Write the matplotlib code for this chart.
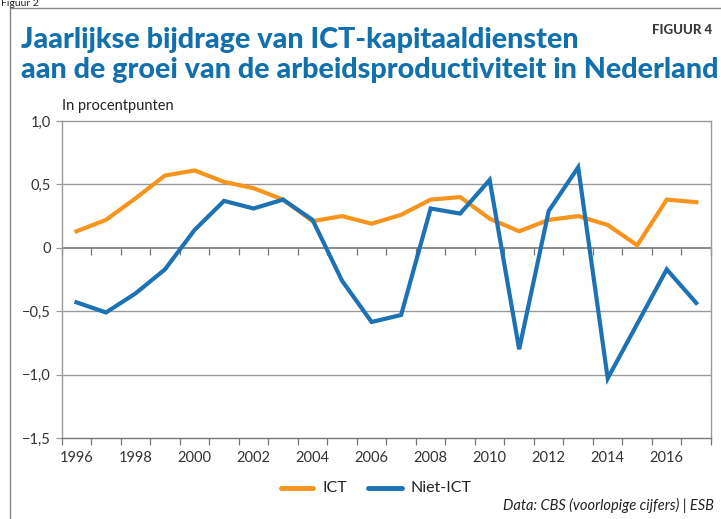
import matplotlib
matplotlib.use("Agg")
import matplotlib.pyplot as plt
from matplotlib.lines import Line2D
import numpy as np

years = list(range(1996, 2018))
ict = [0.13, 0.22, 0.39, 0.57, 0.61, 0.52, 0.47, 0.38, 0.21, 0.25, 0.19, 0.26,
       0.38, 0.40, 0.23, 0.13, 0.22, 0.25, 0.18, 0.02, 0.38, 0.36]
niet_ict = [-0.43, -0.51, -0.36, -0.17, 0.14, 0.37, 0.31, 0.38, 0.22, -0.26, -0.585, -0.53,
            0.31, 0.27, 0.535, -0.80, 0.29, 0.635, -1.03, -0.60, -0.17, -0.435]
yticks = [-1.5, -1.0, -0.5, 0, 0.5, 1.0]
ytick_labels = ["\u22121,5", "\u22121,0", "\u22120,5", "0", "0,5", "1,0"]

ORANGE = "#F7941D"
BLUE = "#1C72B5"
TITLE_BLUE = "#1270AC"
GRID = "#9a9a9a"

W, H = 721, 519
fig = plt.figure(figsize=(W / 100, H / 100), dpi=100)
plt.rcParams['font.family'] = ['Lato', 'DejaVu Sans']

def fx(px):
    return px / W

def fy(py):
    return 1 - py / H

ax = fig.add_axes([fx(61.7), fy(438), fx(711) - fx(61.7), fy(121) - fy(438)])
x = np.arange(len(years))
ax.plot(x, ict, color=ORANGE, lw=3.0, solid_joinstyle='miter', zorder=3)
ax.plot(x, niet_ict, color=BLUE, lw=3.0, solid_joinstyle='miter', zorder=4)

ax.set_xlim(-0.5, len(years) - 0.5)
ax.set_ylim(-1.5, 1.0)
ax.set_yticks(yticks)
ax.set_yticklabels(ytick_labels, fontsize=10.5, color="#333333")
ax.tick_params(axis='y', length=4, width=0.9, color=GRID, pad=4)

label_idx = [i for i, y in enumerate(years) if y % 2 == 0]
ax.set_xticks(label_idx)
ax.set_xticklabels([str(years[i]) for i in label_idx], fontsize=10.5, color="#333333")
ax.tick_params(axis='x', which='major', length=0, pad=9)
ax.set_xticks(np.arange(-0.5, len(years) + 0.5, 1.0), minor=True)
ax.tick_params(axis='x', which='minor', length=5, width=0.9, color="#777777", direction='out')

for v in [-1.0, -0.5, 0.5]:
    ax.axhline(v, color=GRID, lw=1.0, zorder=1)
ax.axhline(0, color="#777777", lw=1.2, zorder=1)

for s in ax.spines.values():
    s.set_color(GRID)
    s.set_linewidth(1.0)
ax.spines['bottom'].set_color("#777777")

sec = ax.secondary_xaxis(0, transform=ax.transData)
sec.set_xticks(np.arange(-0.5, len(years) + 0.5, 1.0))
sec.set_xticklabels([])
sec.tick_params(length=5, width=0.9, color="#777777", direction='out')
sec.spines['bottom'].set_visible(False)

# frame lines
fig.add_artist(Line2D([fx(10), fx(10)], [fy(8), 0], color="#888888", lw=1.0))
fig.add_artist(Line2D([fx(10), 1], [fy(8), fy(8)], color="#888888", lw=1.0))

fig.text(fx(1), fy(6.5), "Figuur 2", fontsize=7.5, color="#222222", va='baseline', ha='left')

fig.text(fx(21), fy(48), "Jaarlijkse bijdrage van ICT-kapitaaldiensten", fontsize=20.7,
         fontweight='black', color=TITLE_BLUE, va='baseline', ha='left')
fig.text(fx(21), fy(78), "aan de groei van de arbeidsproductiviteit in Nederland", fontsize=20.7,
         fontweight='black', color=TITLE_BLUE, va='baseline', ha='left')
fig.text(fx(712), fy(34), "FIGUUR 4", fontsize=9.5, fontweight='black', color="#3a3a3a",
         va='baseline', ha='right')

fig.text(fx(62), fy(110), "In procentpunten", fontsize=10.5, color="#222222", va='baseline', ha='left')

# legend
fig.add_artist(Line2D([fx(281), fx(313)], [fy(488), fy(488)], color=ORANGE, lw=3.5,
                      solid_capstyle='round'))
fig.text(fx(323), fy(488), "ICT", fontsize=11.5, color="#222222", va='center', ha='left')
fig.add_artist(Line2D([fx(368), fx(402)], [fy(488), fy(488)], color=BLUE, lw=3.5,
                      solid_capstyle='round'))
fig.text(fx(411), fy(488), "Niet-ICT", fontsize=11.5, color="#222222", va='center', ha='left')

fig.text(fx(714), fy(510), "Data: CBS (voorlopige cijfers) | ESB", fontsize=10.5, style='italic',
         color="#222222", va='baseline', ha='right')

fig.savefig("out.png", dpi=100)
